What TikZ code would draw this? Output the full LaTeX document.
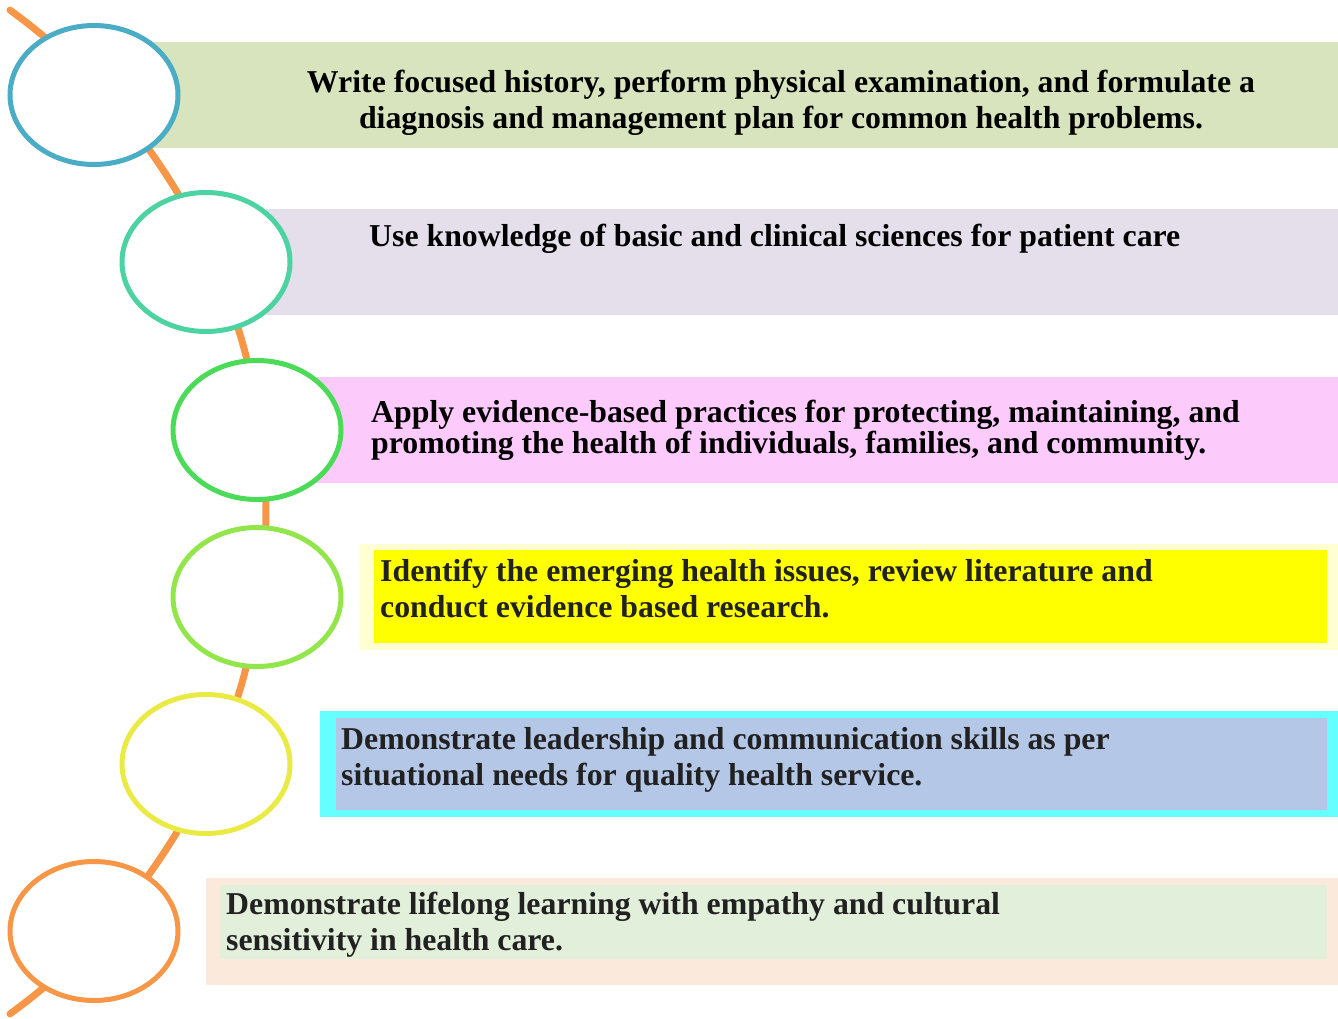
\documentclass[tikz,border=0pt]{standalone}
\usepackage{fontspec}
\setmainfont{Liberation Serif}
\usepackage{tikz}
\usetikzlibrary{shapes.geometric}
\definecolor{spineorange}{HTML}{F79646}
\definecolor{ringblue}{HTML}{4BACC6}
\definecolor{ringteal}{HTML}{4CD3A1}
\definecolor{ringgreen}{HTML}{4CDB59}
\definecolor{ringlime}{HTML}{92E64B}
\definecolor{ringyellow}{HTML}{EAEA45}
\definecolor{ringorange}{HTML}{F79646}
\definecolor{barsage}{HTML}{D7E4BD}
\definecolor{barlilac}{HTML}{E5DFEC}
\definecolor{barpink}{HTML}{FCCBFC}
\definecolor{barcream}{HTML}{FFFFD2}
\definecolor{barlemon}{HTML}{FFFF00}
\definecolor{barcyan}{HTML}{66FFFF}
\definecolor{barsteel}{HTML}{B4C7E7}
\definecolor{barpeach}{HTML}{FBE9DB}
\definecolor{barmint}{HTML}{E2EFDA}
\pgfdeclarelayer{background}
\pgfsetlayers{background,main}
\tikzset{
  roadmap/.style={
    x=1pt
    ,y=-1pt
  }
  ,band/.style={inner sep=0pt,outer sep=0pt,anchor=north west}
  ,goal/.style={
    inner sep=0pt
    ,anchor=base west
    ,align=left
    ,text=black
    ,font={\fontsize{31.8}{36}\selectfont\bfseries}
  }
  ,softgoal/.style={goal,text=black!87}
  ,ring/.style={
    ellipse
    ,draw
    ,fill=white
    ,line width=5pt
    ,inner sep=0pt
    ,minimum width=168pt
    ,minimum height=139pt
  }
  ,spine/.style={draw=spineorange,line width=7pt,line cap=round}
}
\begin{document}
\begin{tikzpicture}[roadmap]
    \useasboundingbox (0,0) rectangle (1338,1019);

    % coloured bands behind the rings
    \begin{pgfonlayer}{background}
      \node[band,fill=barsage,minimum width=1187pt,minimum height=106pt] (goal1bar) at (151,42) {};
      \node[band,fill=barlilac,minimum width=1072pt,minimum height=106pt] (goal2bar) at (266,209) {};
      \node[band,fill=barpink,minimum width=1038pt,minimum height=106pt] (goal3bar) at (300,377) {};
      \node[band,fill=barcream,minimum width=978pt,minimum height=106pt] (goal4bar) at (360,544) {};
      \node[band,fill=barlemon,minimum width=953pt,minimum height=93pt] (goal4in) at (374,550) {};
      \node[band,fill=barcyan,minimum width=1018pt,minimum height=106pt] (goal5bar) at (320,711) {};
      \node[band,fill=barsteel,minimum width=991pt,minimum height=92pt] (goal5in) at (336,718) {};
      \node[band,fill=barpeach,minimum width=1132pt,minimum height=107pt] (goal6bar) at (206,878) {};
      \node[band,fill=barmint,minimum width=1107pt,minimum height=74pt] (goal6in) at (220,885) {};
    \end{pgfonlayer}

    % texts, placed by the baseline of their last line
    \node[goal,anchor=base,align=center] (goal1txt) at (781,129)
      {Write focused history, perform physical examination, and formulate a\\
       diagnosis and management plan for common health problems.};
    \node[goal] (goal2txt) at (369,246)
      {Use knowledge of basic and clinical sciences for patient care};
    \node[goal,font={\fontsize{31.8}{31}\selectfont\bfseries}] (goal3txt) at (371,453)
      {Apply evidence-based practices for protecting, maintaining, and\\
       promoting the health of individuals, families, and community.};
    \node[softgoal] (goal4txt) at (380,617)
      {Identify the emerging health issues, review literature and\\
       conduct evidence based research.};
    \node[softgoal] (goal5txt) at (341,785)
      {Demonstrate leadership and communication skills as per\\
       situational needs for quality health service.};
    \node[softgoal] (goal6txt) at (226,950)
      {Demonstrate lifelong learning with empathy and cultural\\
       sensitivity in health care.};

    % the bent spine, then the rings on top of it
    \coordinate (spinehub) at (-354,512);
    \draw[spine] (spinehub) ++(-54.05:620) arc[start angle=-54.05,end angle=54.05,radius=620];

    \node[ring,draw=ringblue] (goal1ring) at (94,95) {};
    \node[ring,draw=ringteal] (goal2ring) at (206,262) {};
    \node[ring,draw=ringgreen] (goal3ring) at (257,430) {};
    \node[ring,draw=ringlime] (goal4ring) at (257,597) {};
    \node[ring,draw=ringyellow] (goal5ring) at (206,764) {};
    \node[ring,draw=ringorange] (goal6ring) at (94,931) {};
\end{tikzpicture}
\end{document}
